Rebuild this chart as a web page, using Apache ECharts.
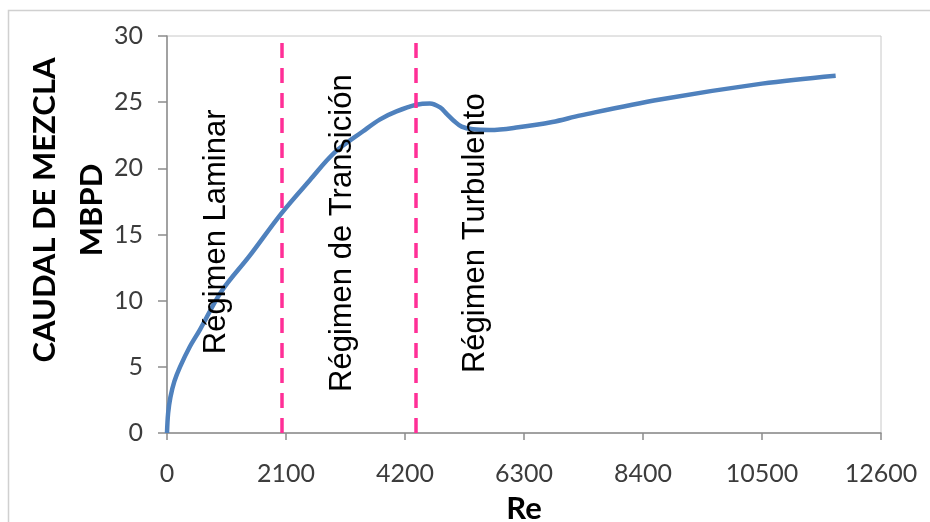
<!DOCTYPE html>
<html>
<head>
<meta charset="utf-8">
<script src="https://cdn.jsdelivr.net/npm/echarts@6/dist/echarts.min.js"></script>
<style>
  html, body { margin: 0; padding: 0; background: #ffffff; }
  #chart { width: 930px; height: 522px; }
</style>
</head>
<body>
<div id="chart"></div>
<script>
// Reynolds number (x) and mixture flow rate in MBPD (y)
const reValues = [0, 20, 60, 130, 230, 400, 580, 960, 1460, 2020, 2520, 2960, 3460, 3760, 4050, 4400, 4640, 4820, 4940, 5060, 5200, 5400, 5700, 6200, 6800, 7300, 8700, 10500, 11800];
const caudal   = [0, 1.5, 2.7, 3.9, 5.0, 6.5, 7.8, 10.7, 13.4, 16.6, 19.1, 21.2, 22.8, 23.7, 24.3, 24.8, 24.9, 24.6, 24.1, 23.6, 23.15, 22.95, 22.9, 23.1, 23.5, 24.0, 25.2, 26.4, 27.0];

// Flow regime boundaries (Re)
const regimeLimits = [2020, 4390];

// Regime names and the Re/MBPD point each rotated label is centred on
const regimeNames = ['Régimen Laminar', 'Régimen de Transición', 'Régimen Turbulento'];
const regimeLabelRe = [865, 3090, 5435];
const regimeLabelQ = [15.2, 15.1, 15.1];

const xTitle = 'Re';
const yTitle = 'CAUDAL DE MEZCLA\nMBPD';

const chart = echarts.init(document.getElementById('chart'), null, { renderer: 'canvas' });

const tickFont = { fontFamily: 'Lato', fontSize: 25, color: '#3c3c3c', formatter: v => String(v) };

chart.setOption({
  animation: false,
  backgroundColor: '#ffffff',
  grid: {
    left: 167, right: 49, top: 36, bottom: 89,
    containLabel: false,
    outerBoundsMode: 'none',
    show: true, borderColor: '#c8c8c8', borderWidth: 1
  },
  xAxis: {
    type: 'value',
    min: 0, max: 12600, interval: 2100,
    name: xTitle,
    nameLocation: 'middle',
    nameGap: 60,
    nameTextStyle: { fontFamily: 'Lato', fontWeight: 'bold', fontSize: 31, color: '#000000' },
    axisLine: { show: true, lineStyle: { color: '#8c8c8c', width: 1.5 } },
    axisTick: { show: true, length: 7, lineStyle: { color: '#8c8c8c', width: 1.5 } },
    axisLabel: Object.assign({ margin: 28 }, tickFont),
    splitLine: { show: false }
  },
  yAxis: {
    type: 'value',
    min: 0, max: 30, interval: 5,
    axisLine: { show: true, lineStyle: { color: '#8c8c8c', width: 1.5 } },
    axisTick: { show: true, length: 9, lineStyle: { color: '#8c8c8c', width: 1.5 } },
    axisLabel: Object.assign({ margin: 24 }, tickFont),
    splitLine: { show: false }
  },
  series: [{
    type: 'line',
    data: reValues.map((r, i) => [r, caudal[i]]),
    smooth: 0.35,
    showSymbol: false,
    lineStyle: { color: '#4f81bd', width: 4.5 },
    markLine: {
      silent: true,
      symbol: 'none',
      label: { show: false },
      lineStyle: { color: '#ff2f97', width: 3.5, type: [15, 10] },
      data: regimeLimits.map(v => ({ xAxis: v }))
    },
    z: 3
  }]
});

// Outer frame, rotated y title and regime labels
const graphics = [
  {
    type: 'rect',
    shape: { x: 8.5, y: 10.5, width: 940, height: 540 },
    style: { fill: null, stroke: '#d0d0d0', lineWidth: 1.5 },
    silent: true
  },
  {
    type: 'text',
    x: 68, y: 210,
    rotation: Math.PI / 2,
    style: {
      text: yTitle,
      fontFamily: 'Lato', fontWeight: 'bold', fontSize: 31,
      lineHeight: 47,
      fill: '#000000',
      align: 'center', verticalAlign: 'middle'
    }
  }
];
regimeNames.forEach((name, i) => {
  const p = chart.convertToPixel({ gridIndex: 0 }, [regimeLabelRe[i], regimeLabelQ[i]]);
  graphics.push({
    type: 'text',
    x: p[0], y: p[1],
    rotation: Math.PI / 2,
    z: 10,
    style: {
      text: name,
      fontFamily: 'Liberation Sans', fontSize: 31,
      fill: '#000000',
      align: 'center', verticalAlign: 'middle'
    }
  });
});
chart.setOption({ graphic: graphics });
</script>
</body>
</html>
